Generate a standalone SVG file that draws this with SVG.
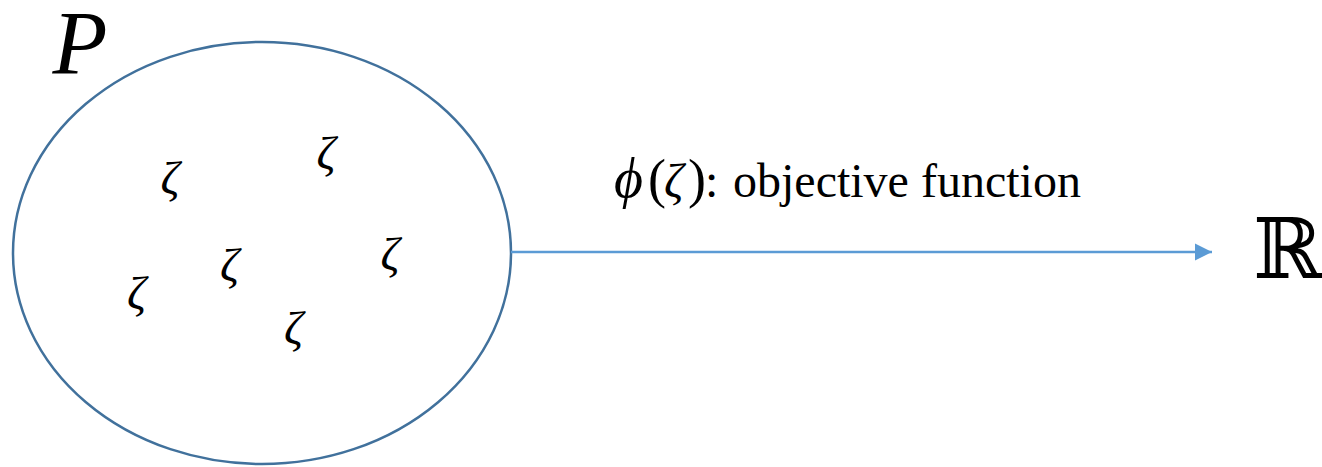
<svg xmlns="http://www.w3.org/2000/svg" width="1322" height="467" viewBox="0 0 1322 467">
  <style>
    .math { font-family: "Liberation Serif", "DejaVu Serif", serif; font-style: italic; fill: #000; }
    .zeta { font-size: 47px; text-anchor: middle; }
    .label { font-family: "Liberation Serif", "DejaVu Serif", serif; font-size: 48px; fill: #000; }
    .set { fill: #fff; stroke: #41719c; stroke-width: 2.5; }
    .conn { stroke: #5b9bd5; stroke-width: 2.5; fill: none; }
  </style>
  <defs>
    <marker id="arrow" markerUnits="userSpaceOnUse" markerWidth="18" markerHeight="18" viewBox="0 0 18 18" refX="17" refY="9" orient="auto">
      <path d="M0,0.5 L17,9 L0,17.5 Z" fill="#5b9bd5"/>
    </marker>
  </defs>
  <rect width="1322" height="467" fill="#fff"/>
  <g id="set-P">
    <ellipse class="set" cx="262" cy="253" rx="249" ry="211"/>
    <text class="math" x="80" y="74" font-size="90" text-anchor="middle">P</text>
    <text class="math zeta" x="170" y="194">ζ</text>
    <text class="math zeta" x="326" y="169">ζ</text>
    <text class="math zeta" x="229.5" y="281">ζ</text>
    <text class="math zeta" x="390" y="270">ζ</text>
    <text class="math zeta" x="136.5" y="309">ζ</text>
    <text class="math zeta" x="293.5" y="344">ζ</text>
  </g>
  <g id="reals">
    <text x="1288" y="278" font-family="DejaVu Serif, serif" font-size="84" text-anchor="middle" fill="#000">ℝ</text>
  </g>
  <g id="connectors">
    <line class="conn" x1="511" y1="252" x2="1212" y2="252" marker-end="url(#arrow)"/>
    <text class="label" y="197"><tspan x="614" font-style="italic" font-size="56">ϕ</tspan><tspan x="648" font-size="54">(</tspan><tspan x="664" font-style="italic">ζ</tspan><tspan x="688" font-size="54">)</tspan><tspan x="705">:</tspan><tspan x="733">objective function</tspan></text>
  </g>
</svg>
